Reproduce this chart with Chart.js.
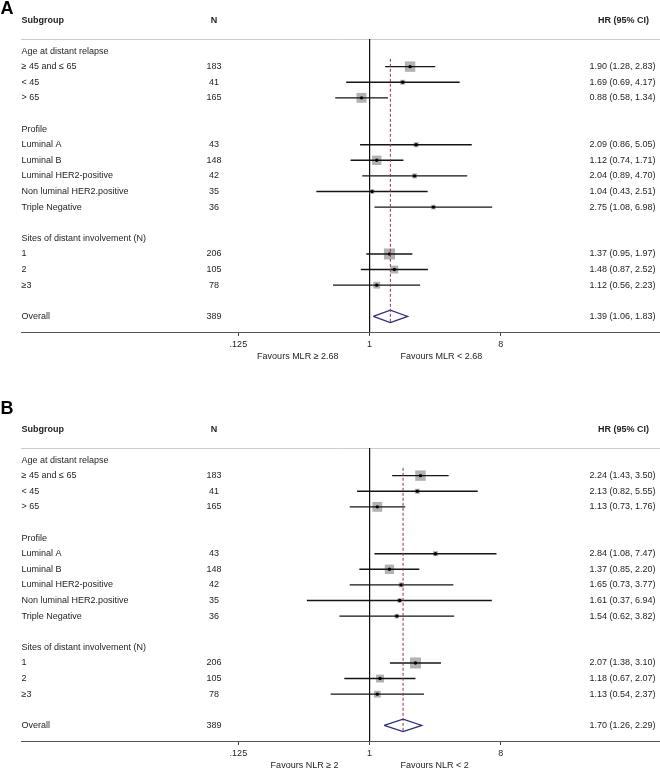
<!DOCTYPE html>
<html>
<head>
<meta charset="utf-8">
<script src="https://cdn.jsdelivr.net/npm/chart.js@4"></script>
<style>
  html, body { margin: 0; padding: 0; background: #fff; overflow: hidden; }
  .panel { position: absolute; left: 0; width: 660px; height: 409px; }
  #panelA { top: -25px; }
  #panelB { top: 384px; }
</style>
</head>
<body>
<div class="panel" id="panelA"><canvas id="chartA" width="660" height="409"></canvas></div>
<div class="panel" id="panelB"><canvas id="chartB" width="660" height="409"></canvas></div>
<script>
  // subgroups (same in both panels)
  const groups = ['Age at distant relapse', 'Profile', 'Sites of distant involvement (N)'];
  const subgroups = [
    ['≥ 45 and ≤ 65', '< 45', '> 65'],
    ['Luminal A', 'Luminal B', 'Luminal HER2-positive', 'Non luminal HER2.positive', 'Triple Negative'],
    ['1', '2', '≥3']
  ];
  const counts = [183, 41, 165, 43, 148, 42, 35, 36, 206, 105, 78];
  const overallN = 389;

  // panel A - MLR
  const hrA   = [1.90, 1.69, 0.88, 2.09, 1.12, 2.04, 1.04, 2.75, 1.37, 1.48, 1.12];
  const lowA  = [1.28, 0.69, 0.58, 0.86, 0.74, 0.89, 0.43, 1.08, 0.95, 0.87, 0.56];
  const highA = [2.83, 4.17, 1.34, 5.05, 1.71, 4.70, 2.51, 6.98, 1.97, 2.52, 2.23];
  const overallA = [1.39, 1.06, 1.83];
  const favoursA = ['Favours MLR ≥ 2.68', 'Favours MLR < 2.68'];

  // panel B - NLR
  const hrB   = [2.24, 2.13, 1.13, 2.84, 1.37, 1.65, 1.61, 1.54, 2.07, 1.18, 1.13];
  const lowB  = [1.43, 0.82, 0.73, 1.08, 0.85, 0.73, 0.37, 0.62, 1.38, 0.67, 0.54];
  const highB = [3.50, 5.55, 1.76, 7.47, 2.20, 3.77, 6.94, 3.82, 3.10, 2.07, 2.37];
  const overallB = [1.70, 1.26, 2.29];
  const favoursB = ['Favours NLR ≥ 2', 'Favours NLR < 2'];

  const xTicks = [0.125, 1, 8];
  const xTickLabels = ['.125', '1', '8'];
  const nullValue = 1;

  const FONT = '"Liberation Sans", Arial, Helvetica, sans-serif';

  // row positions: group header, its subgroups, then a blank line
  const rows = [];
  let r = -1, k = 0;
  groups.forEach((g, gi) => {
    rows.push({ type: 'group', label: g, y: r++ });
    subgroups[gi].forEach(s => rows.push({ type: 'sub', label: s, y: r++, k: k++ }));
    r++;
  });
  const overallRow = r;
  const yMin = -1.77, yMax = overallRow + 1;

  const fmt = v => v.toFixed(2);

  function forestPanel(canvasId, letter, letterBase, hr, low, high, overall, favours) {
    const subs = rows.filter(d => d.type === 'sub');
    const datasets = [];

    // dashed line at the overall estimate
    datasets.push({
      type: 'line',
      data: [{ x: overall[0], y: -0.5 }, { x: overall[0], y: overallRow + 0.4 }],
      borderColor: '#97323f', borderWidth: 1, borderDash: [3, 2], pointRadius: 0, order: 0
    });
    // point estimates
    datasets.push({
      type: 'scatter',
      data: subs.map(d => ({ x: hr[d.k], y: d.y })),
      pointStyle: 'circle', pointRadius: 1.7, backgroundColor: '#000', borderWidth: 0, order: 1
    });
    // overall diamond
    datasets.push({
      type: 'line',
      data: [
        { x: overall[1], y: overallRow }, { x: overall[0], y: overallRow - 0.4 },
        { x: overall[2], y: overallRow }, { x: overall[0], y: overallRow + 0.4 },
        { x: overall[1], y: overallRow }
      ],
      borderColor: '#2b2f78', borderWidth: 1.2, pointRadius: 0, tension: 0, fill: false, order: 1
    });
    // confidence intervals
    subs.forEach(d => datasets.push({
      type: 'line',
      data: [{ x: low[d.k], y: d.y }, { x: high[d.k], y: d.y }],
      borderColor: '#151515', borderWidth: 1.4, pointRadius: 0, order: 2
    }));
    // weight boxes
    datasets.push({
      type: 'scatter',
      data: subs.map(d => ({ x: hr[d.k], y: d.y })),
      pointStyle: 'rect',
      pointRadius: subs.map(d => 0.77 * Math.sqrt(counts[d.k]) / Math.SQRT2),
      backgroundColor: '#b2b2b2', borderWidth: 0, order: 3
    });
    // line of no effect
    datasets.push({
      type: 'line',
      data: [{ x: nullValue, y: yMin }, { x: nullValue, y: yMax }],
      borderColor: '#111', borderWidth: 1, pointRadius: 0, order: 4
    });

    const textPlugin = {
      id: 'forestText',
      beforeDatasetsDraw(chart) {
        const { ctx, chartArea: a } = chart;
        ctx.save();
        ctx.strokeStyle = '#cdcdcd';
        ctx.lineWidth = 1;
        ctx.beginPath();
        ctx.moveTo(a.left, a.top + 0.5);
        ctx.lineTo(a.right, a.top + 0.5);
        ctx.stroke();
        ctx.restore();
      },
      afterDraw(chart) {
        const { ctx, chartArea: a, scales: { x, y } } = chart;
        const colLabel = 21.5, colN = 214, colHR = 655.5, colHRHead = 649;
        ctx.save();
        ctx.fillStyle = '#000';
        ctx.font = 'bold 18px ' + FONT;
        ctx.textAlign = 'left';
        ctx.textBaseline = 'alphabetic';
        ctx.fillText(letter, 0.5, letterBase);

        ctx.textBaseline = 'middle';
        ctx.fillStyle = '#1e1e1e';
        const headY = a.top - 18.3;
        ctx.font = 'bold 9px ' + FONT;
        ctx.fillText('Subgroup', colLabel, headY);
        ctx.textAlign = 'center';
        ctx.fillText('N', colN, headY);
        ctx.textAlign = 'right';
        ctx.fillText('HR (95% CI)', colHRHead, headY);

        ctx.font = '9px ' + FONT;
        rows.forEach(d => {
          const py = y.getPixelForValue(d.y);
          ctx.textAlign = 'left';
          ctx.fillText(d.label, colLabel, py);
          if (d.type === 'sub') {
            ctx.textAlign = 'center';
            ctx.fillText(String(counts[d.k]), colN, py);
            ctx.textAlign = 'right';
            ctx.fillText(fmt(hr[d.k]) + ' (' + fmt(low[d.k]) + ', ' + fmt(high[d.k]) + ')', colHR, py);
          }
        });
        const oy = y.getPixelForValue(overallRow);
        ctx.textAlign = 'left';
        ctx.fillText('Overall', colLabel, oy);
        ctx.textAlign = 'center';
        ctx.fillText(String(overallN), colN, oy);
        ctx.textAlign = 'right';
        ctx.fillText(fmt(overall[0]) + ' (' + fmt(overall[1]) + ', ' + fmt(overall[2]) + ')', colHR, oy);

        // favours labels under the axis
        const x1 = x.getPixelForValue(nullValue);
        const fy = a.bottom + 24.7;
        ctx.textAlign = 'right';
        ctx.fillText(favours[0], x1 - 31, fy);
        ctx.textAlign = 'left';
        ctx.fillText(favours[1], x1 + 31, fy);
        ctx.restore();
      }
    };

    new Chart(document.getElementById(canvasId), {
      type: 'scatter',
      data: { datasets: datasets },
      plugins: [textPlugin],
      options: {
        responsive: false,
        devicePixelRatio: 1,
        animation: false,
        events: [],
        layout: { padding: { left: 21, right: 0, top: 64, bottom: 28 }, autoPadding: false },
        plugins: { legend: { display: false }, tooltip: { enabled: false } },
        scales: {
          x: {
            type: 'logarithmic',
            bounds: 'data',
            min: Math.pow(2, -7.97),
            max: Math.pow(2, 6.64),
            afterBuildTicks: s => { s.ticks = xTicks.map(v => ({ value: v })); },
            afterFit: s => { s.height = 24; },
            ticks: {
              callback: (v, i) => xTickLabels[i],
              font: { family: FONT, size: 9 },
              color: '#1e1e1e',
              padding: 3,
              maxRotation: 0,
              autoSkip: false
            },
            grid: { drawOnChartArea: false, drawTicks: true, tickLength: 4, tickColor: '#444', tickWidth: 1 },
            border: { display: true, color: '#555', width: 1 }
          },
          y: { type: 'linear', min: yMin, max: yMax, reverse: true, display: false }
        }
      }
    });
  }

  forestPanel('chartA', 'A', 39, hrA, lowA, highA, overallA, favoursA);
  forestPanel('chartB', 'B', 30.3, hrB, lowB, highB, overallB, favoursB);
</script>
</body>
</html>
